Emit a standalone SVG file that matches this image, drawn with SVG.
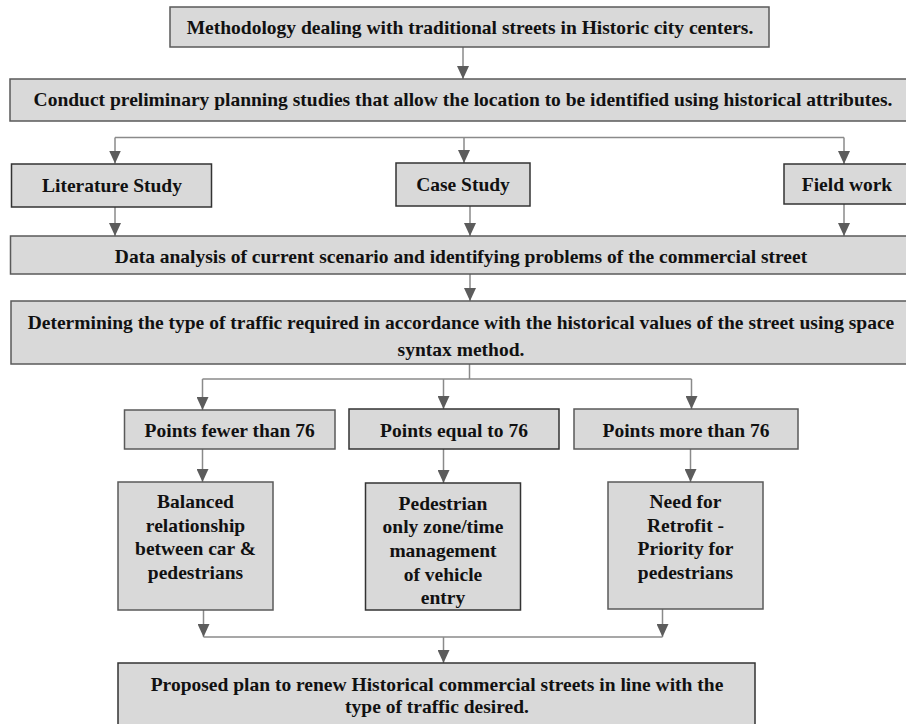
<svg xmlns="http://www.w3.org/2000/svg" width="906" height="724" viewBox="0 0 906 724">
<style>
.bx{fill:#d9d9d9;stroke:#5a5a5a;stroke-width:1.5}
.dk{stroke:#333}
.t{font-family:"Liberation Serif","Times New Roman",serif;font-weight:bold;font-size:19.5px;fill:#111;text-anchor:middle}
.c{fill:none;stroke:#8a8a8a;stroke-width:1.5}
</style>
<defs>
<marker id="ah" viewBox="0 0 13 12" markerWidth="13" markerHeight="12" refX="13" refY="6" orient="auto" markerUnits="userSpaceOnUse">
<path d="M0,0 L13,6 L0,12 z" fill="#5c5c5c"/>
</marker>
</defs>
<rect width="906" height="724" fill="#fff"/>
<g id="connectors">
<path class="c" d="M463,47 V79" marker-end="url(#ah)"/>
<path class="c" d="M115,137.5 H844"/>
<path class="c" d="M115,137.5 V163.5" marker-end="url(#ah)"/>
<path class="c" d="M464,137.5 V163" marker-end="url(#ah)"/>
<path class="c" d="M844,137.5 V164" marker-end="url(#ah)"/>
<path class="c" d="M115,207 V236" marker-end="url(#ah)"/>
<path class="c" d="M470,206 V236" marker-end="url(#ah)"/>
<path class="c" d="M844,204 V236" marker-end="url(#ah)"/>
<path class="c" d="M470,274 V301" marker-end="url(#ah)"/>
<path class="c" d="M469.5,364 V379 M202.5,379 H691.5"/>
<path class="c" d="M202.5,379 V410" marker-end="url(#ah)"/>
<path class="c" d="M443.5,379 V409" marker-end="url(#ah)"/>
<path class="c" d="M691.5,379 V409" marker-end="url(#ah)"/>
<path class="c" d="M202.5,449 V482" marker-end="url(#ah)"/>
<path class="c" d="M443.5,449 V483" marker-end="url(#ah)"/>
<path class="c" d="M690.5,449 V482" marker-end="url(#ah)"/>
<path class="c" d="M203.5,610 V637" marker-end="url(#ah)"/>
<path class="c" d="M662.5,609 V637" marker-end="url(#ah)"/>
<path class="c" d="M203.5,637 H662.5"/>
<path class="c" d="M443.5,637 V663" marker-end="url(#ah)"/>
</g>
<g id="n1"><rect class="bx" x="170" y="7" width="599" height="40"/><text class="t" x="470" y="34">Methodology dealing with traditional streets in Historic city centers.</text></g>
<g id="n2"><rect class="bx" x="10" y="79" width="910" height="42"/><text class="t" x="463" y="106">Conduct preliminary planning studies that allow the location to be identified using historical attributes.</text></g>
<g id="n3"><rect class="bx dk" x="11.5" y="164" width="200" height="43"/><text class="t" x="112" y="192">Literature Study</text></g>
<g id="n4"><rect class="bx dk" x="396" y="163" width="134" height="43"/><text class="t" x="463" y="191">Case Study</text></g>
<g id="n5"><rect class="bx dk" x="784" y="164" width="130" height="40"/><text class="t" x="847" y="191">Field work</text></g>
<g id="n6"><rect class="bx" x="10.5" y="236" width="910" height="38"/><text class="t" x="461" y="263">Data analysis of current scenario and identifying problems of the commercial street</text></g>
<g id="n7"><rect class="bx" x="11" y="301" width="910" height="63"/><text class="t" x="461" y="329">Determining the type of traffic required in accordance with the historical values of the street using space</text><text class="t" x="461" y="356">syntax method.</text></g>
<g id="n8"><rect class="bx" x="124.5" y="410" width="210.5" height="39"/><text class="t" x="229.7" y="437">Points fewer than 76</text></g>
<g id="n9"><rect class="bx dk" x="349" y="409" width="210" height="40"/><text class="t" x="454" y="436.5">Points equal to 76</text></g>
<g id="n10"><rect class="bx" x="574" y="409" width="224" height="40"/><text class="t" x="686" y="436.5">Points more than 76</text></g>
<g id="n11"><rect class="bx" x="118" y="482" width="155" height="128"/><text class="t" x="195.5" y="508">Balanced</text><text class="t" x="195.5" y="532">relationship</text><text class="t" x="195.5" y="555">between car &amp;</text><text class="t" x="195.5" y="579">pedestrians</text></g>
<g id="n12"><rect class="bx dk" x="365.5" y="483" width="155" height="127"/><text class="t" x="443" y="509.5">Pedestrian</text><text class="t" x="443" y="533">only zone/time</text><text class="t" x="443" y="557">management</text><text class="t" x="443" y="580.5">of vehicle</text><text class="t" x="443" y="604">entry</text></g>
<g id="n13"><rect class="bx" x="608" y="482" width="155" height="127"/><text class="t" x="685.5" y="508">Need for</text><text class="t" x="685.5" y="532">Retrofit -</text><text class="t" x="685.5" y="555">Priority for</text><text class="t" x="685.5" y="579">pedestrians</text></g>
<g id="n14"><rect class="bx dk" x="118" y="663" width="637" height="70"/><text class="t" x="437" y="691">Proposed plan to renew Historical commercial streets in line with the</text><text class="t" x="437" y="713">type of traffic desired.</text></g>
</svg>
